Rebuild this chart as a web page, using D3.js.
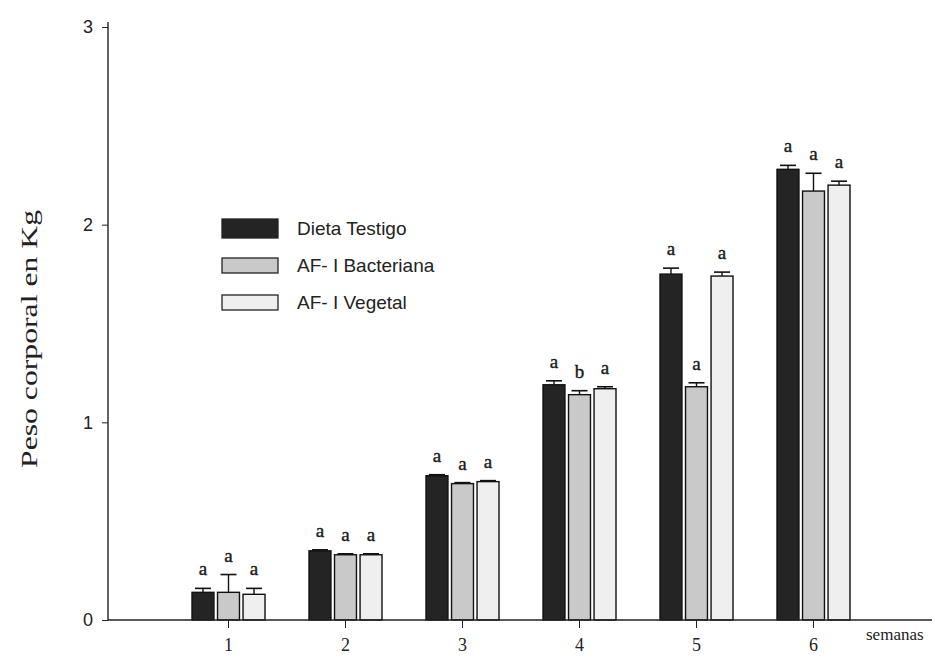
<!DOCTYPE html>
<html>
<head>
<meta charset="utf-8">
<script src="https://cdn.jsdelivr.net/npm/d3@7"></script>
<style>
  html, body { margin: 0; padding: 0; background: #ffffff; }
  svg { display: block; }
</style>
</head>
<body>
<svg id="chart" width="935" height="661"></svg>
<script>
// Weeks on the x axis
const weeks = ["1", "2", "3", "4", "5", "6"];
const seriesNames = ["Dieta Testigo", "AF- I Bacteriana", "AF- I Vegetal"];

// Mean body weight (kg) per diet
const testigo    = [0.14, 0.35, 0.73, 1.19, 1.75, 2.28];
const bacteriana = [0.14, 0.33, 0.69, 1.14, 1.18, 2.17];
const vegetal    = [0.13, 0.33, 0.70, 1.17, 1.74, 2.20];

// Standard error (kg)
const errTestigo    = [0.02, 0.005, 0.005, 0.02, 0.03, 0.02];
const errBacteriana = [0.09, 0.005, 0.005, 0.02, 0.02, 0.09];
const errVegetal    = [0.03, 0.005, 0.005, 0.01, 0.02, 0.02];

// Significance letters
const lettersTestigo    = ["a", "a", "a", "a", "a", "a"];
const lettersBacteriana = ["a", "a", "a", "b", "a", "a"];
const lettersVegetal    = ["a", "a", "a", "a", "a", "a"];

const yTicks = [0, 1, 2, 3];

const values = [testigo, bacteriana, vegetal];
const errors = [errTestigo, errBacteriana, errVegetal];
const letters = [lettersTestigo, lettersBacteriana, lettersVegetal];
const fills = ["#242424", "#c9c9c9", "#efefef"];

const svg = d3.select("#chart");
const x0 = 108, x1 = 932, yBottom = 620, yTop = 27;

const y = d3.scaleLinear().domain([0, 3]).range([yBottom, yTop]);
const x = d3.scaleBand().domain(weeks).range([170, 872]).paddingInner(0).paddingOuter(0);
const xs = d3.scaleBand().domain(d3.range(3)).range([0, 73]).paddingInner(0.14);

const serif = "'Liberation Serif', 'Times New Roman', serif";
const sans = "'Liberation Sans', Arial, sans-serif";

// Bars
const groups = svg.append("g").selectAll("g")
  .data(weeks)
  .join("g")
  .attr("transform", d => `translate(${x(d) + x.bandwidth() / 2 - 36.5},0)`);

values.forEach((vals, s) => {
  groups.append("rect")
    .attr("x", xs(s))
    .attr("width", xs.bandwidth())
    .attr("y", (d, i) => y(vals[i]))
    .attr("height", (d, i) => y(0) - y(vals[i]))
    .attr("fill", fills[s])
    .attr("stroke", "#111")
    .attr("stroke-width", 1.4);

  // error bar: stem plus cap
  groups.append("line")
    .attr("x1", xs(s) + xs.bandwidth() / 2)
    .attr("x2", xs(s) + xs.bandwidth() / 2)
    .attr("y1", (d, i) => y(vals[i]))
    .attr("y2", (d, i) => y(vals[i] + errors[s][i]))
    .attr("stroke", "#111").attr("stroke-width", 1.4);
  groups.append("line")
    .attr("x1", xs(s) + xs.bandwidth() / 2 - 8)
    .attr("x2", xs(s) + xs.bandwidth() / 2 + 8)
    .attr("y1", (d, i) => y(vals[i] + errors[s][i]))
    .attr("y2", (d, i) => y(vals[i] + errors[s][i]))
    .attr("stroke", "#111").attr("stroke-width", 1.6);

  groups.append("text")
    .attr("x", xs(s) + xs.bandwidth() / 2)
    .attr("y", (d, i) => y(vals[i] + errors[s][i]) - 13)
    .attr("text-anchor", "middle")
    .attr("font-family", serif)
    .attr("font-size", 19)
    .attr("fill", "#1a1a1a")
    .attr("stroke", "#1a1a1a").attr("stroke-width", 0.4)
    .text((d, i) => letters[s][i]);
});

// Y axis
const yAxis = svg.append("g")
  .attr("transform", `translate(${x0},0)`)
  .call(d3.axisLeft(y).tickValues(yTicks).tickFormat(d3.format("d")).tickSize(6).tickPadding(9));
yAxis.select(".domain").attr("stroke", "#222").attr("stroke-width", 1.4).attr("d", `M0,${yTop - 5}V${yBottom}`);
yAxis.selectAll(".tick line").attr("stroke", "#222");
yAxis.selectAll(".tick text").attr("font-family", sans).attr("font-size", 18).attr("fill", "#222");

// X axis
const xAxis = svg.append("g")
  .attr("transform", `translate(0,${yBottom})`)
  .call(d3.axisBottom(x).tickSize(8).tickPadding(10));
xAxis.select(".domain").attr("stroke", "#222").attr("stroke-width", 1.4).attr("d", `M${x0},0H${x1}`);
xAxis.selectAll(".tick line").attr("stroke", "#222");
xAxis.selectAll(".tick text").attr("font-family", serif).attr("font-size", 18).attr("fill", "#222");

svg.append("text")
  .attr("x", 866).attr("y", 640)
  .attr("font-family", serif).attr("font-size", 17).attr("fill", "#222")
  .text("semanas");

// Y axis title
svg.append("text")
  .attr("transform", `translate(37,339) rotate(-90)`)
  .attr("text-anchor", "middle")
  .attr("font-family", serif).attr("font-size", 23).attr("fill", "#222")
  .attr("textLength", 258).attr("lengthAdjust", "spacingAndGlyphs")
  .text("Peso corporal en Kg");

// Legend
const legend = svg.append("g").attr("transform", "translate(222,219)");
seriesNames.forEach((name, i) => {
  const g = legend.append("g").attr("transform", `translate(0,${i * 37})`);
  g.append("rect")
    .attr("x", 0).attr("y", i === 0 ? 0 : 2)
    .attr("width", 56).attr("height", i === 0 ? 19 : 15)
    .attr("fill", fills[i]).attr("stroke", "#222").attr("stroke-width", 1.3);
  g.append("text")
    .attr("x", 75).attr("y", 16)
    .attr("font-family", sans).attr("font-size", 19).attr("fill", "#222")
    .text(name);
});
</script>
</body>
</html>
